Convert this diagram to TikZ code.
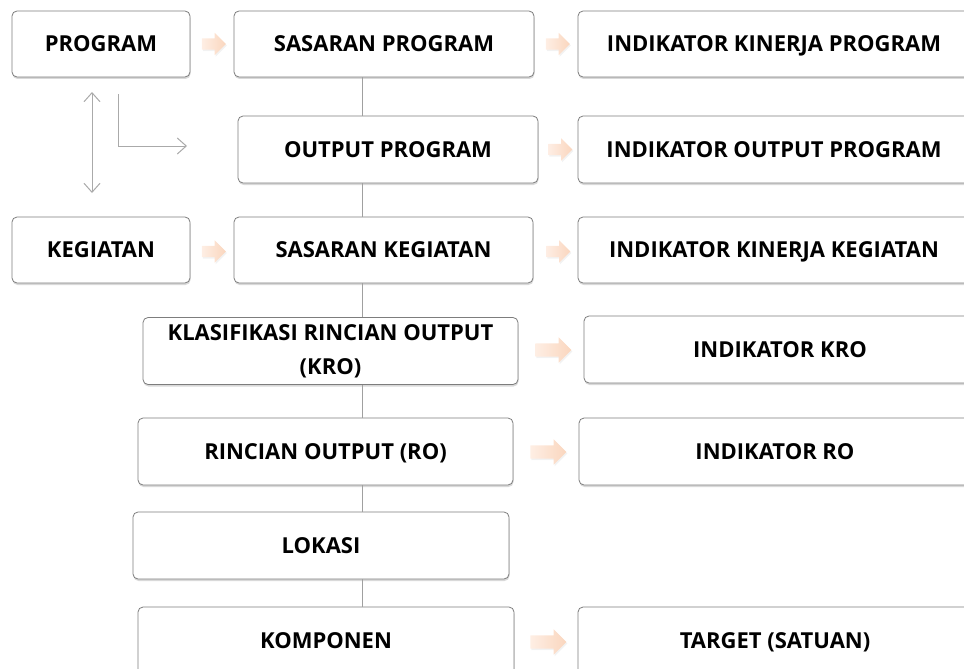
\documentclass[tikz,border=0pt]{standalone}
\usepackage{fontspec}
\setmainfont{Open Sans}
\usepackage{tikz}
\usetikzlibrary{shapes.arrows}
\usetikzlibrary{shadows}
\usetikzlibrary{arrows.meta}

\definecolor{boxline}{RGB}{125,125,125}
\definecolor{peachlight}{RGB}{254,238,228}
\definecolor{peachdark}{RGB}{250,214,190}
\definecolor{guide}{RGB}{170,170,170}
\definecolor{spinegray}{RGB}{160,160,160}

\begin{document}
\begin{tikzpicture}[x=1pt,y=-1pt,
  box/.style={draw=boxline,fill=white,rounded corners=5pt,line width=0.8pt,
    drop shadow={shadow xshift=0.5pt,shadow yshift=-2pt,opacity=0.3},
    font=\fontsize{22}{34}\selectfont\bfseries,align=center,inner sep=0pt,
    text height=15.5pt,text depth=0pt,minimum height=66pt},
  flow/.style={single arrow,draw=none,left color=peachlight,right color=peachdark,
    inner xsep=0pt,single arrow head indent=0pt,
    drop shadow={shadow xshift=1pt,shadow yshift=-1.5pt,opacity=0.1}},
  smallflow/.style={flow,inner ysep=5.5pt,single arrow head extend=5.5pt,minimum height=24pt},
  bigflow/.style={flow,inner ysep=6.5pt,single arrow head extend=6pt,minimum height=36pt},
  spine/.style={draw=spinegray,line width=0.8pt},
  guidearrow/.style={draw=guide,line width=1pt}
]
  \useasboundingbox (0,0) rectangle (964,669);

  % left column
  \node[box,minimum width=178pt] (prog) at (101,44) {PROGRAM};
  \node[box,minimum width=178pt] (keg) at (101,250) {KEGIATAN};

  % middle column
  \node[box,minimum width=300pt] (sprog) at (384,44) {SASARAN PROGRAM};
  \node[box,minimum width=300pt,minimum height=67pt] (oprog) at (388,149.5) {OUTPUT PROGRAM};
  \node[box,minimum width=299pt] (skeg) at (383.5,250) {SASARAN KEGIATAN};
  \node[box,minimum width=375pt,minimum height=67pt,text height=,text depth=] (kro) at (330.5,351)
    {KLASIFIKASI RINCIAN OUTPUT\\(KRO)};
  \node[box,minimum width=375pt,minimum height=67pt] (ro) at (325.5,451.5) {RINCIAN OUTPUT (RO)};
  \node[box,minimum width=376pt,minimum height=67pt] (lok) at (321,545.5) {LOKASI};
  \node[box,minimum width=376pt,minimum height=67pt] (kom) at (326,640.5) {KOMPONEN};

  % right column
  \node[box,minimum width=392pt] (ikprog) at (774,44) {INDIKATOR KINERJA PROGRAM};
  \node[box,minimum width=392pt,minimum height=67pt] (ioprog) at (774,149.5) {INDIKATOR OUTPUT PROGRAM};
  \node[box,minimum width=392pt] (ikkeg) at (774,250) {INDIKATOR KINERJA KEGIATAN};
  \node[box,minimum width=392pt,minimum height=67pt] (ikro) at (780,349.5) {INDIKATOR KRO};
  \node[box,minimum width=392pt,minimum height=67pt] (iro) at (775,451.5) {INDIKATOR RO};
  \node[box,minimum width=394pt,minimum height=67pt] (tgt) at (775,640.5) {TARGET (SATUAN)};

  % block arrows
  \node[smallflow] (f1) at (211,44) {};
  \node[smallflow] (f2) at (555,44) {};
  \node[smallflow] (f3) at (557.5,149.5) {};
  \node[smallflow] (f4) at (211,251.5) {};
  \node[smallflow] (f5) at (555.5,251.5) {};
  \node[bigflow] (f6) at (550,350) {};
  \node[bigflow] (f7) at (545,452) {};
  \node[bigflow] (f8) at (545,642) {};

  % spine line
  \coordinate (spinex) at (362,0);
  \foreach \a/\b in {sprog/oprog,oprog/skeg,skeg/kro,kro/ro,ro/lok,lok/kom}
    \draw[spine] (\a.south -| spinex) -- (\b.north -| spinex);

  % guide arrows
  \coordinate (ud1) at (92,92);
  \coordinate (ud2) at (92,193);
  \coordinate (lt) at (118,94);
  \coordinate (lr) at (187,146);
  \draw[guidearrow,{Straight Barb[length=9pt,width=16pt]}-{Straight Barb[length=9pt,width=16pt]}] (ud1) -- (ud2);
  \draw[guidearrow,-{Straight Barb[length=9pt,width=16pt]}] (lt) |- (lr);
\end{tikzpicture}
\end{document}
